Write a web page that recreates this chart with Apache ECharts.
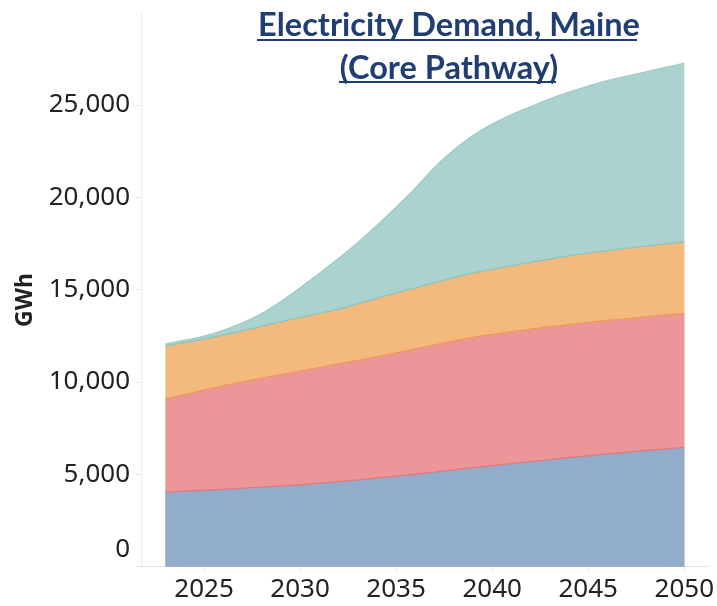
<!DOCTYPE html>
<html>
<head>
<meta charset="utf-8">
<script src="https://cdn.jsdelivr.net/npm/echarts@6/dist/echarts.min.js"></script>
<style>html,body{margin:0;padding:0;background:#fff;}#c{width:717px;height:606px;}</style>
</head>
<body>
<div id="c"></div>
<script>
// ---- data (GWh) ----
const years = [2023,2024,2025,2026,2027,2028,2029,2030,2031,2032,2033,2034,2035,2036,2037,2038,2039,2040,2041,2042,2043,2044,2045,2046,2047,2048,2049,2050];
const commercial = [4050,4090,4140,4190,4250,4310,4370,4440,4520,4610,4700,4800,4900,5010,5120,5240,5360,5470,5580,5690,5800,5910,6010,6110,6200,6290,6380,6460];
const residential = [5030,5230,5420,5600,5760,5900,6030,6150,6260,6370,6470,6570,6680,6790,6890,6980,7060,7110,7140,7170,7190,7200,7210,7220,7230,7240,7250,7260];
const industry = [2870,2820,2770,2750,2760,2810,2860,2910,2940,2960,3070,3160,3240,3300,3370,3430,3480,3520,3570,3620,3670,3730,3760,3780,3810,3830,3850,3880];
const transportation = [110,120,150,260,430,680,1100,1600,2150,2750,3300,3950,4650,5400,6240,6910,7450,7870,8180,8420,8670,8860,9040,9210,9320,9430,9550,9660];
const xTicks = [2025,2030,2035,2040,2045,2050];
const yTicks = [0,5000,10000,15000,20000,25000];
const seriesNames = ['Commercial','Residential','Industry','Transportation'];

const chart = echarts.init(document.getElementById('c'), null, {renderer:'canvas'});
const fills = ['#92adcb','#eb9698','#f4b97d','#aad2ce'];
const edges = ['#df7b80','#ef9a5c','#93c4bd','#a2ccc7'];
const vals = [commercial, residential, industry, transportation];

// cumulative (stacked) tops, built from the arrays above
const cum = [];
vals.forEach((arr,i)=>{
  cum.push(arr.map((v,k)=> v + (i>0 ? cum[i-1][k] : 0)));
});

// draw from top layer down so lower layers overlay
const series = [3,2,1,0].map(i=>({
  name: seriesNames[i], type:'line', smooth:0.4, symbol:'none',
  data: years.map((y,k)=>[y, cum[i][k]]),
  lineStyle:{color:edges[i], width:1.4},
  areaStyle:{color:fills[i], opacity:1, origin:'start'},
  itemStyle:{color:fills[i]},
  emphasis:{disabled:true},
  silent:true
}));

const fmtNum = v => v.toLocaleString('en-US');

chart.setOption({
  animation:false,
  backgroundColor:'#fff',
  title:{
    text:'Electricity Demand, Maine\n(Core Pathway)',
    left:444, top:-0.5, textAlign:'center',
    textStyle:{fontFamily:'Lato', fontWeight:'bold', fontSize:32.5, color:'#1f3f72', lineHeight:43}
  },
  grid:{left:141, right:0, top:12.7, bottom:39.3, containLabel:false},
  xAxis:{
    type:'value', min:2021.72, max:2051.28,
    splitLine:{show:false},
    axisLine:{show:true, lineStyle:{color:'#e3e3e3', width:1}},
    axisTick:{show:true, customValues:xTicks, length:5, lineStyle:{color:'#e3e3e3'}},
    axisLabel:{customValues:xTicks, formatter:v=>String(v), fontFamily:'Noto Sans', fontSize:26, color:'#222', margin:10}
  },
  yAxis:{
    type:'value', min:0, max:30000,
    splitLine:{show:false},
    axisLine:{show:true, lineStyle:{color:'#ececec', width:1}},
    axisTick:{show:true, customValues:yTicks, length:5, inside:false, lineStyle:{color:'#e3e3e3'}},
    axisLabel:{
      customValues:yTicks,
      formatter:v=> v===0 ? '{z|0}' : fmtNum(v),
      fontFamily:'Noto Sans', fontSize:26, color:'#222', margin:11,
      rich:{z:{fontFamily:'Noto Sans', fontSize:26, color:'#222', padding:[0,0,34,0]}}
    }
  },
  series,
  graphic:[
    {type:'line', shape:{x1:257,y1:40,x2:637,y2:40}, style:{stroke:'#1f3f72', lineWidth:2}},
    {type:'line', shape:{x1:339,y1:82,x2:556,y2:82}, style:{stroke:'#1f3f72', lineWidth:2}},
    {type:'text', x:25, y:300, rotation:Math.PI/2, style:{text:'GWh', font:'bold 23px "Noto Sans"', fill:'#222', align:'center', verticalAlign:'middle'}},
    {type:'text', x:585, y:193, style:{text:seriesNames[3], font:'22px "Noto Sans"', fill:'#333', align:'center', verticalAlign:'middle'}},
    {type:'text', x:637, y:284, style:{text:seriesNames[2], font:'22px "Noto Sans"', fill:'#333', align:'center', verticalAlign:'middle'}},
    {type:'text', x:600, y:391, style:{text:seriesNames[1], font:'22px "Noto Sans"', fill:'#333', align:'center', verticalAlign:'middle'}},
    {type:'text', x:601, y:515, style:{text:seriesNames[0], font:'22px "Noto Sans"', fill:'#333', align:'center', verticalAlign:'middle'}}
  ]
});
</script>
</body>
</html>
